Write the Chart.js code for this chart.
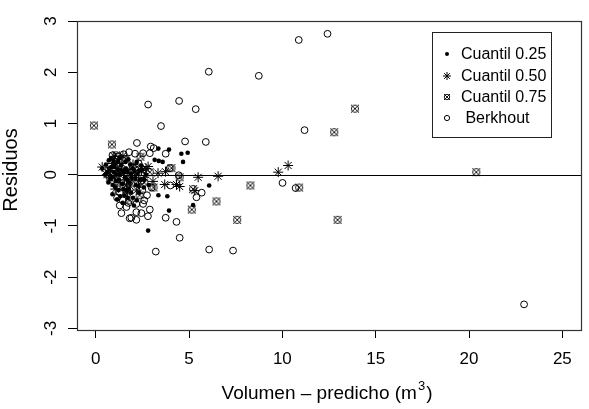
<!DOCTYPE html>
<html><head><meta charset="utf-8">
<script src="https://cdn.jsdelivr.net/npm/chart.js@4"></script>
<style>html,body{margin:0;padding:0;background:#fff;} #c{display:block;}</style>
</head><body>
<canvas id="c" width="589" height="409"></canvas>
<script>
const xTicks = [0, 5, 10, 15, 20, 25];
const yTicks = [-3, -2, -1, 0, 1, 2, 3];
const seriesNames = ['Cuantil 0.25', 'Cuantil 0.50', 'Cuantil 0.75', ' Berkhout'];
const xTitleParts = ['Volumen \u2013 predicho (m', '3', ')'];
const yTitle = 'Residuos';
const refLine = [0];

const q25 = [
  [3.36,0.51],[3.93,0.49],[4.59,0.41],[4.93,0.43],[4.68,0.25],[3.16,0.29],[3.38,0.27],[3.59,0.25],
  [6.08,-0.21],[3.84,-0.42],[3.36,-0.40],[5.22,-0.59],[3.93,-0.70],[2.81,-1.09],
  [0.35,0.12],[0.55,0.2],[0.62,0.05],[0.7,0.28],[0.78,-0.08],[0.85,0.15],[0.92,-0.2],[0.98,0.05],
  [1.05,0.22],[1.1,-0.12],[1.18,0.1],[1.22,-0.3],[1.3,0.0],[1.36,0.18],[1.42,-0.18],[1.5,0.05],
  [1.55,-0.4],[1.62,0.12],[1.7,-0.1],[1.78,-0.28],[1.85,0.2],[1.92,-0.05],[2.0,-0.45],[2.08,0.08],
  [2.15,-0.2],[2.25,0.02],[2.32,-0.35],[2.42,-0.1],[2.5,0.1],[2.58,-0.25],[1.15,-0.48],[1.45,-0.55],
  [0.9,-0.38],[1.75,0.3],[2.2,0.25],[2.7,0.0],[2.85,-0.2],[1.28,0.32],[0.68,-0.15],[2.05,-0.6],
  [0.5,0.0],[0.72,0.12],[0.88,-0.05],[1.0,0.15],[1.12,0.0],[1.25,-0.1],[1.4,0.08],[1.58,-0.05],
  [1.68,0.05],[1.82,-0.15],[1.98,0.12],[2.12,-0.08],[2.3,-0.22],[2.45,0.18],[1.32,-0.42],[1.62,-0.3],
  [1.9,-0.35],[2.2,-0.5],[1.05,-0.25],[0.95,0.28],[1.6,0.25],[2.35,0.08],[1.48,-0.28],[1.72,-0.45],
  [0.82,0.32],[1.2,0.26],[2.6,-0.1],[1.88,0.02]
];
const q50 = [
  [9.78,0.05],[10.31,0.18],[5.49,-0.05],[6.56,-0.03],[5.31,-0.31],[2.81,0.16],[3.34,0.03],[3.74,0.06],
  [4.33,-0.19],[3.07,-0.13],[3.7,-0.19],[4.5,-0.23],[0.35,0.15],[0.98,0.36],[1.46,0.37],[0.75,-0.06],
  [0.6,0.0],[0.8,0.08],[1.0,-0.05],[1.15,0.12],[1.3,-0.15],[1.5,0.02],[1.65,-0.2],[1.8,0.1],
  [1.95,-0.1],[2.1,0.05],[2.3,-0.12],[2.45,0.08],[2.6,-0.05],[1.05,-0.28],[1.4,0.22],[2.0,0.2],
  [2.2,-0.3],[0.9,0.22],[1.7,-0.35],[2.7,0.12],[1.25,0.05],[1.55,-0.1],[1.85,-0.22],[2.15,-0.02]
];
const q75 = [
  [-0.09,0.96],[0.87,0.59],[13.89,1.29],[12.78,0.83],[10.9,-0.25],[12.96,-0.88],[20.39,0.05],[8.29,-0.21],
  [5.22,-0.28],[6.47,-0.52],[5.15,-0.68],[7.58,-0.88],[4.06,0.13],
  [1.1,0.38],[1.6,0.3],[2.4,0.35],[1.3,0.12],[1.9,-0.02],[2.2,0.15],[0.7,0.1],[1.0,-0.15],[1.5,-0.25],
  [2.6,-0.15],[2.9,0.05],[3.1,-0.25],[1.8,-0.5],[2.35,-0.4],[4.5,-0.05]
];
const berk = [
  [6.06,2.01],[8.74,1.93],[10.88,2.63],[12.42,2.75],[11.19,0.87],[10.01,-0.16],[10.71,-0.26],[22.95,-2.53],
  [5.36,1.28],[4.47,1.44],[2.81,1.37],[3.50,0.95],[2.21,0.62],[4.79,0.65],[5.90,0.64],[3.11,0.52],
  [3.75,0.41],[1.79,0.44],[2.11,0.41],[2.54,0.42],[2.90,0.42],[3.97,0.13],[4.45,-0.01],[4.0,-0.21],
  [5.68,-0.35],[5.40,-0.44],[4.50,-1.23],[6.08,-1.46],[7.36,-1.48],[3.22,-1.50],[3.75,-0.84],[4.33,-0.92],
  [1.29,-0.60],[1.65,-0.63],[2.18,-0.57],[2.54,-0.57],[2.90,-0.68],[1.38,-0.75],[1.82,-0.85],[2.18,-0.73],
  [2.45,-0.75],[2.80,-0.81],[2.18,-0.88],[1.91,-0.84],
  [0.9,0.38],[1.2,0.36],[1.5,0.4],[1.05,0.3],[2.3,0.22],[2.55,0.1],[2.45,-0.12],[1.15,-0.45],
  [1.45,-0.5],[1.75,-0.55],[1.3,-0.35],[2.5,-0.3],[2.75,-0.4],[3.0,-0.25],[2.6,-0.5],[2.95,0.55]
];

const FONT = '"Liberation Sans", Arial, sans-serif';
const toXY = a => a.map(p => ({x: p[0], y: p[1]}));

function circX(r, rc) {
  const s = Math.ceil(2 * r + 2);
  const c = document.createElement('canvas');
  c.width = s; c.height = s;
  const g = c.getContext('2d');
  g.strokeStyle = '#000'; g.lineWidth = 0.9;
  g.beginPath(); g.arc(s/2, s/2, rc, 0, 2*Math.PI); g.stroke();
  g.beginPath();
  g.moveTo(s/2 - r, s/2 - r); g.lineTo(s/2 + r, s/2 + r);
  g.moveTo(s/2 + r, s/2 - r); g.lineTo(s/2 - r, s/2 + r);
  g.stroke();
  return c;
}
const circXImg = circX(4, 3.6);
const circXSmall = circX(3, 2.7);

const decor = {
  id: 'decor',
  beforeDatasetsDraw(chart) {
    const {ctx, chartArea: a, scales: {y}} = chart;
    ctx.save();
    ctx.strokeStyle = '#000'; ctx.lineWidth = 1;
    refLine.forEach(v => {
      const py = Math.round(y.getPixelForValue(v)) + 0.5;
      ctx.beginPath(); ctx.moveTo(a.left, py); ctx.lineTo(a.right, py); ctx.stroke();
    });
    ctx.restore();
  },
  afterDraw(chart) {
    const {ctx, chartArea: a, scales: {y}} = chart;
    ctx.save();
    ctx.strokeStyle = '#333'; ctx.lineWidth = 1.2;
    ctx.strokeRect(Math.round(a.left) + 0.5, Math.round(a.top) + 0.5, Math.round(a.right - a.left), Math.round(a.bottom - a.top));
    // y tick labels (rotated, as in R las=0)
    ctx.fillStyle = '#000';
    ctx.font = '17px ' + FONT; ctx.textAlign = 'center'; ctx.textBaseline = 'middle';
    yTicks.forEach(v => {
      ctx.save();
      ctx.translate(51, y.getPixelForValue(v));
      ctx.rotate(-Math.PI / 2);
      ctx.fillText(String(v), 0, 0);
      ctx.restore();
    });
    // legend
    const lx = 432.5, ly = 32.5, lw = 119, lh = 105;
    ctx.fillStyle = '#fff'; ctx.fillRect(lx, ly, lw, lh);
    ctx.strokeStyle = '#222'; ctx.lineWidth = 1; ctx.strokeRect(lx, ly, lw, lh);
    const rows = [54, 76, 97, 118];
    const sx = 447;
    ctx.fillStyle = '#000'; ctx.strokeStyle = '#000';
    ctx.beginPath(); ctx.arc(sx, rows[0], 2, 0, 2*Math.PI); ctx.fill();
    const r = 4;
    ctx.beginPath();
    ctx.moveTo(sx - r, rows[1]); ctx.lineTo(sx + r, rows[1]);
    ctx.moveTo(sx, rows[1] - r); ctx.lineTo(sx, rows[1] + r);
    const d = r * 0.707;
    ctx.moveTo(sx - d, rows[1] - d); ctx.lineTo(sx + d, rows[1] + d);
    ctx.moveTo(sx + d, rows[1] - d); ctx.lineTo(sx - d, rows[1] + d);
    ctx.stroke();
    ctx.drawImage(circXSmall, sx - circXSmall.width/2, rows[2] - circXSmall.height/2);
    ctx.beginPath(); ctx.arc(sx, rows[3], 2.6, 0, 2*Math.PI); ctx.stroke();
    ctx.font = '16px ' + FONT; ctx.textBaseline = 'middle'; ctx.textAlign = 'left';
    seriesNames.forEach((n, i) => ctx.fillText(n, 461, rows[i] + 1));
    // x title
    ctx.textBaseline = 'alphabetic';
    ctx.font = '19px ' + FONT;
    const w0 = ctx.measureText(xTitleParts[0]).width;
    const w2 = ctx.measureText(xTitleParts[2]).width;
    ctx.font = '13px ' + FONT;
    const w1 = ctx.measureText(xTitleParts[1]).width;
    const cx = (a.left + a.right) / 2 - 2;
    let x0 = cx - (w0 + w1 + w2 + 2) / 2;
    const by = 399;
    ctx.font = '19px ' + FONT; ctx.fillText(xTitleParts[0], x0, by);
    ctx.font = '13px ' + FONT; ctx.fillText(xTitleParts[1], x0 + w0 + 1, by - 9);
    ctx.font = '19px ' + FONT; ctx.fillText(xTitleParts[2], x0 + w0 + w1 + 2, by);
    // y title
    ctx.translate(11, 170);
    ctx.rotate(-Math.PI / 2);
    ctx.textAlign = 'center'; ctx.textBaseline = 'middle';
    ctx.font = '20px ' + FONT;
    ctx.fillText(yTitle, 0, 0);
    ctx.restore();
  }
};

new Chart(document.getElementById('c'), {
  type: 'scatter',
  data: {
    datasets: [
      {label: seriesNames[0], data: toXY(q25), pointStyle: 'circle', pointRadius: 2.3, backgroundColor: '#000', borderWidth: 0},
      {label: seriesNames[1], data: toXY(q50), pointStyle: 'star', pointRadius: 5, borderColor: '#000', backgroundColor: '#000', borderWidth: 1},
      {label: seriesNames[2], data: toXY(q75), pointStyle: circXImg, pointRadius: 4, borderColor: '#000', borderWidth: 1},
      {label: seriesNames[3], data: toXY(berk), pointStyle: 'circle', pointRadius: 3.4, borderColor: '#000', backgroundColor: 'rgba(0,0,0,0)', borderWidth: 1}
    ]
  },
  options: {
    responsive: false,
    animation: false,
    events: [],
    devicePixelRatio: 1,
    layout: {padding: {top: 21, right: 8, left: 0, bottom: 0}},
    plugins: {legend: {display: false}, tooltip: {enabled: false}},
    scales: {
      x: {
        type: 'linear', min: -1, max: 26,
        afterBuildTicks: s => { s.ticks = xTicks.map(v => ({value: v})); },
        afterFit: s => { s.height = 79; },
        ticks: {font: {size: 17, family: FONT}, color: '#000', padding: 11, maxRotation: 0, autoSkip: false},
        grid: {drawOnChartArea: false, drawTicks: true, tickLength: 8, color: '#000'},
        border: {display: true, color: '#333'}
      },
      y: {
        type: 'linear', min: -3.03, max: 3,
        afterBuildTicks: s => { s.ticks = yTicks.map(v => ({value: v})); },
        afterFit: s => { s.width = 77; s.paddingTop = 0; s.paddingBottom = 0; },
        ticks: {display: false},
        grid: {drawOnChartArea: false, drawTicks: true, tickLength: 9, color: '#000'},
        border: {display: true, color: '#333'}
      }
    }
  },
  plugins: [decor]
});
</script>
</body></html>
